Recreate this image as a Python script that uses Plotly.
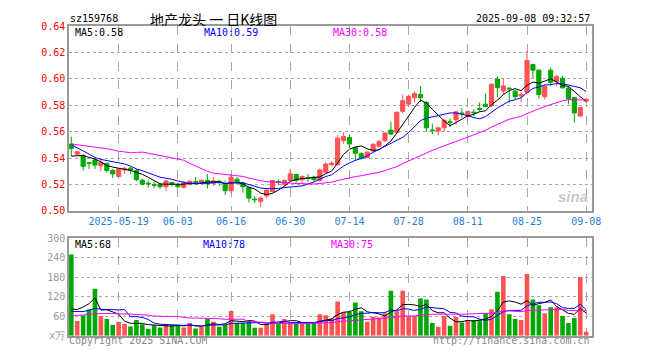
import plotly.graph_objects as go

# ---------------- data ----------------
dates = [
    "2025-05-07", "2025-05-08", "2025-05-09", "2025-05-12", "2025-05-13", "2025-05-14", "2025-05-15", "2025-05-16",
    "2025-05-19", "2025-05-20", "2025-05-21", "2025-05-22", "2025-05-23", "2025-05-26", "2025-05-27", "2025-05-28",
    "2025-05-29", "2025-05-30", "2025-06-03", "2025-06-04", "2025-06-05", "2025-06-06", "2025-06-09", "2025-06-10",
    "2025-06-11", "2025-06-12", "2025-06-13", "2025-06-16", "2025-06-17", "2025-06-18", "2025-06-19", "2025-06-20",
    "2025-06-23", "2025-06-24", "2025-06-25", "2025-06-26", "2025-06-27", "2025-06-30", "2025-07-01", "2025-07-02",
    "2025-07-03", "2025-07-04", "2025-07-07", "2025-07-08", "2025-07-09", "2025-07-10", "2025-07-11", "2025-07-14",
    "2025-07-15", "2025-07-16", "2025-07-17", "2025-07-18", "2025-07-21", "2025-07-22", "2025-07-23", "2025-07-24",
    "2025-07-25", "2025-07-28", "2025-07-29", "2025-07-30", "2025-07-31", "2025-08-01", "2025-08-04", "2025-08-05",
    "2025-08-06", "2025-08-07", "2025-08-08", "2025-08-11", "2025-08-12", "2025-08-13", "2025-08-14", "2025-08-15",
    "2025-08-18", "2025-08-19", "2025-08-20", "2025-08-21", "2025-08-22", "2025-08-25", "2025-08-26", "2025-08-27",
    "2025-08-28", "2025-08-29", "2025-09-01", "2025-09-02", "2025-09-03", "2025-09-04", "2025-09-05", "2025-09-08",
]

opens = [
    0.5506, 0.5430, 0.5421, 0.5365, 0.5386, 0.5342, 0.5360, 0.5306, 0.5261, 0.5310, 0.5323, 0.5306, 0.5232, 0.5210,
    0.5200, 0.5202, 0.5183, 0.5215, 0.5200, 0.5178, 0.5200, 0.5222, 0.5220, 0.5232, 0.5210, 0.5225, 0.5207, 0.5153,
    0.5240, 0.5212, 0.5178, 0.5090, 0.5072, 0.5114, 0.5146, 0.5222, 0.5202, 0.5232, 0.5276, 0.5237, 0.5250, 0.5256,
    0.5232, 0.5293, 0.5350, 0.5350, 0.5531, 0.5556, 0.5480, 0.5433, 0.5404, 0.5453, 0.5490, 0.5531, 0.5612, 0.5595,
    0.5754, 0.5809, 0.5857, 0.5882, 0.5821, 0.5612, 0.5605, 0.5629, 0.5675, 0.5690, 0.5741, 0.5717, 0.5748, 0.5775,
    0.5808, 0.5796, 0.5998, 0.5908, 0.5930, 0.5907, 0.5870, 0.5899, 0.6108, 0.6066, 0.5865, 0.6066, 0.5980, 0.6005,
    0.5931, 0.5858, 0.5718, 0.5832,
]
highs = [
    0.5563, 0.5455, 0.5428, 0.5367, 0.5398, 0.5391, 0.5367, 0.5318, 0.5325, 0.5335, 0.5335, 0.5318, 0.5245, 0.5232,
    0.5220, 0.5210, 0.5237, 0.5220, 0.5212, 0.5227, 0.5232, 0.5256, 0.5237, 0.5278, 0.5256, 0.5232, 0.5230, 0.5280,
    0.5256, 0.5220, 0.5183, 0.5110, 0.5110, 0.5163, 0.5232, 0.5237, 0.5237, 0.5318, 0.5281, 0.5268, 0.5281, 0.5268,
    0.5322, 0.5367, 0.5376, 0.5575, 0.5595, 0.5575, 0.5487, 0.5445, 0.5452, 0.5514, 0.5539, 0.5595, 0.5674, 0.5752,
    0.5882, 0.5882, 0.5905, 0.5944, 0.5833, 0.5661, 0.5637, 0.5698, 0.5700, 0.5755, 0.5777, 0.5760, 0.5770, 0.5822,
    0.5890, 0.5963, 0.6017, 0.6005, 0.5933, 0.5918, 0.5900, 0.6213, 0.6115, 0.6070, 0.5956, 0.6085, 0.6030, 0.6022,
    0.5944, 0.5858, 0.5784, 0.5852,
]
lows = [
    0.5416, 0.5425, 0.5306, 0.5318, 0.5318, 0.5300, 0.5290, 0.5249, 0.5255, 0.5280, 0.5280, 0.5225, 0.5195, 0.5175,
    0.5175, 0.5170, 0.5153, 0.5190, 0.5175, 0.5170, 0.5195, 0.5202, 0.5205, 0.5170, 0.5190, 0.5190, 0.5121, 0.5134,
    0.5202, 0.5139, 0.5065, 0.5060, 0.5028, 0.5097, 0.5139, 0.5195, 0.5188, 0.5222, 0.5212, 0.5202, 0.5222, 0.5222,
    0.5220, 0.5285, 0.5338, 0.5342, 0.5510, 0.5477, 0.5379, 0.5390, 0.5399, 0.5443, 0.5480, 0.5521, 0.5575, 0.5585,
    0.5740, 0.5790, 0.5820, 0.5825, 0.5600, 0.5580, 0.5570, 0.5600, 0.5636, 0.5650, 0.5706, 0.5700, 0.5715, 0.5750,
    0.5786, 0.5786, 0.5860, 0.5878, 0.5820, 0.5845, 0.5820, 0.5882, 0.6005, 0.5850, 0.5845, 0.5944, 0.5944, 0.5944,
    0.5807, 0.5669, 0.5710, 0.5820,
]
closes = [
    0.5472, 0.5448, 0.5337, 0.5360, 0.5347, 0.5367, 0.5306, 0.5280, 0.5318, 0.5323, 0.5306, 0.5237, 0.5202, 0.5205,
    0.5195, 0.5183, 0.5227, 0.5205, 0.5183, 0.5212, 0.5224, 0.5218, 0.5232, 0.5205, 0.5227, 0.5220, 0.5153, 0.5256,
    0.5212, 0.5183, 0.5097, 0.5085, 0.5097, 0.5158, 0.5230, 0.5218, 0.5232, 0.5281, 0.5232, 0.5261, 0.5248, 0.5237,
    0.5310, 0.5355, 0.5362, 0.5551, 0.5563, 0.5507, 0.5437, 0.5401, 0.5445, 0.5504, 0.5526, 0.5590, 0.5582, 0.5747,
    0.5835, 0.5867, 0.5888, 0.5857, 0.5629, 0.5608, 0.5629, 0.5686, 0.5672, 0.5750, 0.5737, 0.5753, 0.5744, 0.5770,
    0.5790, 0.5960, 0.5933, 0.5946, 0.5925, 0.5865, 0.5882, 0.6140, 0.6066, 0.5882, 0.5944, 0.5973, 0.6017, 0.5931,
    0.5850, 0.5742, 0.5784, 0.5845,
]
volumes = [
    249, 45, 63, 80, 144, 60, 51, 33, 42, 36, 28, 48, 35, 21, 32, 25, 36, 32, 32, 25, 39, 22, 27, 52, 43, 27, 33, 76,
    39, 39, 45, 24, 24, 37, 66, 39, 51, 37, 37, 37, 37, 37, 66, 63, 53, 105, 73, 73, 102, 75, 43, 58, 56, 69, 138, 75,
    138, 60, 60, 114, 111, 39, 27, 60, 30, 57, 40, 48, 48, 48, 69, 81, 135, 183, 66, 51, 48, 189, 111, 93, 69, 87, 87,
    60, 39, 54, 180, 12,
]

# moving-average values at the start of the window (before enough bars are shown)
ma5_head = [0.5415, 0.5418, 0.5420, 0.5405]
ma10_head = [0.5500, 0.5480, 0.5455, 0.5430, 0.5405, 0.5390, 0.5380, 0.5372, 0.5362]
ma30_head = [
    0.5507, 0.5500, 0.5494, 0.5488, 0.5482, 0.5477, 0.5472, 0.5460, 0.5452, 0.5447, 0.5440, 0.5443, 0.5445, 0.5437,
    0.5428, 0.5422, 0.5413, 0.5404, 0.5395, 0.5384, 0.5360, 0.5340, 0.5318, 0.5300, 0.5286, 0.5280, 0.5275, 0.5269,
    0.5262,
]
vma5_head = [82, 80, 88, 98]
vma10_head = [74, 74, 74, 78, 84, 81, 80, 79, 79]
vma30_head = [62, 62, 63, 66, 68, 68, 68, 68, 68, 67, 66, 65, 65, 63, 60, 59, 59, 59, 59, 56, 54, 54, 54, 54, 53, 52,
              50, 50, 50]

tick_dates = ["2025-05-19", "2025-06-03", "2025-06-16", "2025-06-30", "2025-07-14", "2025-07-28", "2025-08-11",
              "2025-08-25", "2025-09-08"]
tick_labels = ["2025-05-19", "06-03", "06-16", "06-30", "07-14", "07-28", "08-11", "08-25", "09-08"]
price_ticks = [0.50, 0.52, 0.54, 0.56, 0.58, 0.60, 0.62, 0.64]
price_tick_labels = ["0.50", "0.52", "0.54", "0.56", "0.58", "0.60", "0.62", "0.64"]
vol_ticks = [0, 60, 120, 180, 240, 300]
vol_tick_labels = ["x万", "60", "120", "180", "240", "300"]

price_legend = ["MA5:0.58", "MA10:0.59", "MA30:0.58"]
vol_legend = ["MA5:68", "MA10:78", "MA30:75"]
code_text = "sz159768"
title_text = "地产龙头 一 日K线图"
time_text = "2025-09-08 09:32:57"


def moving_avg(values, n, head):
    out = []
    for i in range(len(values)):
        if i < n - 1:
            out.append(head[i])
        else:
            out.append(sum(values[i - n + 1:i + 1]) / n)
    return out


ma5 = moving_avg(closes, 5, ma5_head)
ma10 = moving_avg(closes, 10, ma10_head)
ma30 = moving_avg(closes, 30, ma30_head)
vma5 = moving_avg(volumes, 5, vma5_head)
vma10 = moving_avg(volumes, 10, vma10_head)
vma30 = moving_avg(volumes, 30, vma30_head)

# ---------------- styling ----------------
W, H = 660, 360
RED = "#FF5252"
GREEN = "#00A800"
BLUE = "#0000FF"
MAGENTA = "#FF00FF"
GRID = "#A8A8A8"
BORDER = "#999999"
MONO = "DejaVu Sans Mono"


def px_x(x):
    return x / W


def px_y(y):
    return 1 - y / H


vol_colors = [RED if c >= o else GREEN for o, c in zip(opens, closes)]

fig = go.Figure()

fig.add_trace(go.Candlestick(
    x=dates, open=opens, high=highs, low=lows, close=closes,
    increasing=dict(line=dict(color=RED, width=1), fillcolor=RED),
    decreasing=dict(line=dict(color=GREEN, width=1), fillcolor=GREEN),
    whiskerwidth=0, xaxis="x", yaxis="y", showlegend=False, hoverinfo="skip",
))
for series, col in [(ma5, "#000000"), (ma10, BLUE), (ma30, MAGENTA)]:
    fig.add_trace(go.Scatter(x=dates, y=series, mode="lines", line=dict(color=col, width=1),
                             xaxis="x", yaxis="y", showlegend=False, hoverinfo="skip"))

fig.add_trace(go.Bar(x=dates, y=volumes, marker=dict(color=vol_colors, line=dict(width=0)), width=0.78,
                     xaxis="x2", yaxis="y2", showlegend=False, hoverinfo="skip"))
for series, col in [(vma5, "#000000"), (vma10, BLUE), (vma30, MAGENTA)]:
    fig.add_trace(go.Scatter(x=dates, y=series, mode="lines", line=dict(color=col, width=1),
                             xaxis="x2", yaxis="y2", showlegend=False, hoverinfo="skip"))

xdom = [px_x(70), px_x(600)]
xrange = [-0.38, len(dates) - 1 + 0.95]
common_x = dict(
    type="category", categoryorder="array", categoryarray=dates, range=xrange, domain=xdom,
    tickmode="array", tickvals=tick_dates, showgrid=True, gridcolor=GRID, griddash="dash", gridwidth=1,
    showline=True, linecolor=BORDER, linewidth=1.5, mirror=True, ticks="", zeroline=False, fixedrange=True,
)

fig.update_layout(
    width=W, height=H, margin=dict(l=0, r=0, t=0, b=0),
    paper_bgcolor="white", plot_bgcolor="white",
    boxgap=0.3, boxgroupgap=0, bargap=0.2,
    xaxis=dict(common_x, ticktext=tick_labels, anchor="y", rangeslider=dict(visible=False),
               tickfont=dict(family=MONO, size=10, color="#1E7FE0")),
    xaxis2=dict(common_x, ticktext=tick_labels, anchor="y2", showticklabels=False),
    yaxis=dict(domain=[px_y(212), px_y(20.7)], range=[0.50, 0.64], tickmode="array", tickvals=price_ticks,
               ticktext=price_tick_labels, tickfont=dict(family=MONO, size=10, color="#FF0000"),
               showgrid=True, gridcolor=GRID, griddash="dot", showline=True, linecolor=BORDER, linewidth=1.5,
               mirror=True, ticks="", zeroline=False, anchor="x", fixedrange=True),
    yaxis2=dict(domain=[px_y(341), px_y(240)], range=[0, 300], tickmode="array", tickvals=vol_ticks,
                ticktext=vol_tick_labels, tickfont=dict(family=MONO, size=10, color="#999999"),
                showgrid=True, gridcolor=GRID, griddash="dot", showline=True, linecolor=BORDER, linewidth=1.5,
                mirror=True, ticks="", zeroline=False, anchor="x2", fixedrange=True),
)

ann = []


def text(x, y, s, color="#000000", size=10, family=MONO, anchor="left", box_h=None, **kw):
    ann.append(dict(x=px_x(x), y=px_y(y), xref="paper", yref="paper", text=s, showarrow=False,
                    xanchor=anchor, yanchor="middle", height=box_h if box_h else size + 1, borderpad=0,
                    font=dict(family=family, size=size, color=color), **kw))


text(70, 13, code_text, size=10)
text(151, 12.5, title_text, size=14, family="Noto Sans CJK SC")
text(599, 13, time_text, anchor="right")
text(75, 27, price_legend[0], color="#000000")
text(206, 27, price_legend[1], color=BLUE)
text(337, 27, price_legend[2], color=MAGENTA)
text(75, 247, vol_legend[0], color="#000000")
text(205, 247, vol_legend[1], color=BLUE)
text(335, 247, vol_legend[2], color=MAGENTA)
text(69, 346, "Copyright 2025 SINA.COM", color="#888888")
text(599, 346, "http://finance.sina.com.cn", color="#888888", anchor="right")
text(581, 197, "<b><i>sina</i></b>", color="#C8C8C8", size=15, family="Liberation Sans", anchor="center")

fig.update_layout(annotations=ann)

fig.write_html("out.html", config={"displayModeBar": False},
               post_script="document.body.style.margin='0';document.body.style.overflow='hidden';")
